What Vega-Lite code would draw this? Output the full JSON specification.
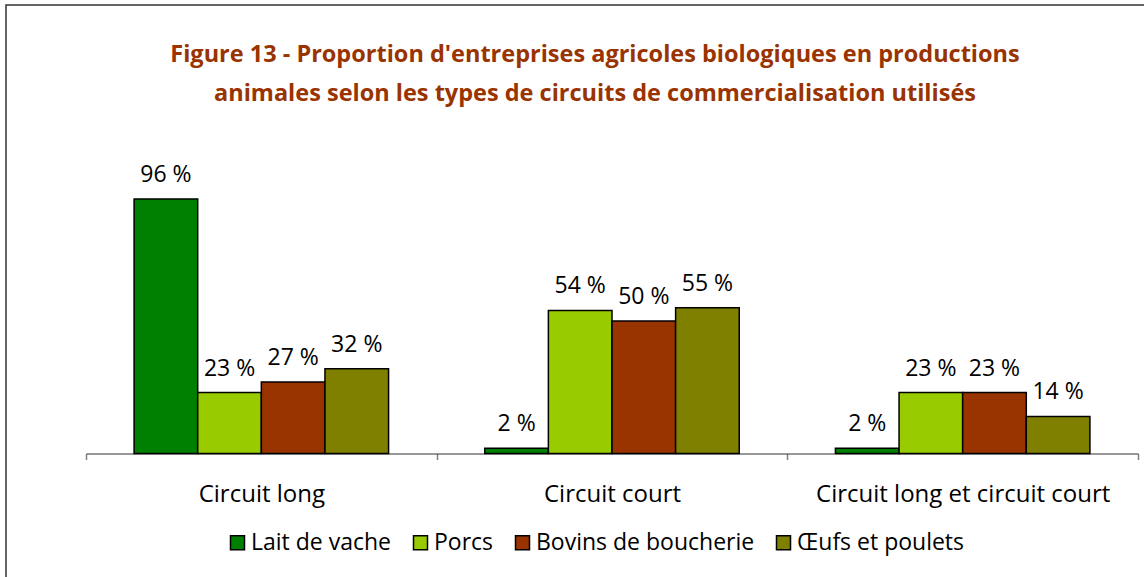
{
  "$schema": "https://vega.github.io/schema/vega-lite/v6.json",
  "autosize": {"type": "none"},
  "padding": {"left": 6, "top": 5, "right": 0, "bottom": 0},
  "width": 1150,
  "height": 590,
  "background": "white",
  "config": {"view": {"stroke": "#333333", "strokeWidth": 1.5}, "font": "Open Sans"},
  "title": {
    "text": ["Figure 13 - Proportion d'entreprises agricoles biologiques en productions", "animales selon les types de circuits de commercialisation utilisés"],
    "font": "Open Sans",
    "fontWeight": "bold",
    "fontSize": 23.5,
    "color": "#993300",
    "lineHeight": 39,
    "anchor": "middle",
    "frame": "group",
    "baseline": "top",
    "offset": -100,
    "dx": 14
  },
  "data": {
    "values": [
      {"circuit": "Circuit long", "serie": "Lait de vache", "value": 96, "label": "96 %"},
      {"circuit": "Circuit long", "serie": "Porcs", "value": 23, "label": "23 %"},
      {"circuit": "Circuit long", "serie": "Bovins de boucherie", "value": 27, "label": "27 %"},
      {"circuit": "Circuit long", "serie": "Œufs et poulets", "value": 32, "label": "32 %"},
      {"circuit": "Circuit court", "serie": "Lait de vache", "value": 2, "label": "2 %"},
      {"circuit": "Circuit court", "serie": "Porcs", "value": 54, "label": "54 %"},
      {"circuit": "Circuit court", "serie": "Bovins de boucherie", "value": 50, "label": "50 %"},
      {"circuit": "Circuit court", "serie": "Œufs et poulets", "value": 55, "label": "55 %"},
      {"circuit": "Circuit long et circuit court", "serie": "Lait de vache", "value": 2, "label": "2 %"},
      {"circuit": "Circuit long et circuit court", "serie": "Porcs", "value": 23, "label": "23 %"},
      {"circuit": "Circuit long et circuit court", "serie": "Bovins de boucherie", "value": 23, "label": "23 %"},
      {"circuit": "Circuit long et circuit court", "serie": "Œufs et poulets", "value": 14, "label": "14 %"}
    ]
  },
  "encoding": {
    "x": {
      "field": "circuit",
      "type": "nominal",
      "sort": ["Circuit long", "Circuit court", "Circuit long et circuit court"],
      "scale": {"domain": ["Circuit long", "Circuit court", "Circuit long et circuit court"], "range": [80, 1132], "paddingInner": 0, "paddingOuter": 0},
      "axis": {
        "title": null,
        "orient": "bottom",
        "offset": -141.5,
        "domainColor": "#333333",
        "domainWidth": 1,
        "tickColor": "#808080",
        "tickSize": 6,
        "tickWidth": 1.5,
        "tickBand": "extent",
        "labelFont": "Open Sans",
        "labelFontSize": 24,
        "labelColor": "black",
        "labelPadding": 23,
        "labelAngle": 0,
        "labelLimit": 0,
        "grid": false
      }
    },
    "xOffset": {
      "field": "serie",
      "type": "nominal",
      "sort": ["Lait de vache", "Porcs", "Bovins de boucherie", "Œufs et poulets"],
      "scale": {"domain": ["Lait de vache", "Porcs", "Bovins de boucherie", "Œufs et poulets"], "paddingInner": 0, "paddingOuter": 0.756}
    },
    "y": {
      "field": "value",
      "type": "quantitative",
      "scale": {"domain": [0, 100], "range": [448.5, 183.5]},
      "axis": null
    }
  },
  "layer": [
    {
      "mark": {"type": "bar", "stroke": "black", "strokeWidth": 1.5},
      "encoding": {
        "color": {
          "field": "serie",
          "type": "nominal",
          "sort": ["Lait de vache", "Porcs", "Bovins de boucherie", "Œufs et poulets"],
          "scale": {"domain": ["Lait de vache", "Porcs", "Bovins de boucherie", "Œufs et poulets"], "range": ["#008000", "#99cc00", "#993300", "#808000"]},
          "legend": {
            "orient": "none",
            "legendX": 220,
            "legendY": 526,
            "direction": "horizontal",
            "title": null,
            "padding": 0,
            "symbolType": "square",
            "symbolSize": 196,
            "symbolStrokeColor": "black",
            "symbolStrokeWidth": 1.5,
            "symbolOpacity": 1,
            "labelFont": "Open Sans",
            "labelFontSize": 23,
            "labelColor": "black",
            "labelOffset": 2,
            "labelLimit": 0,
            "columnPadding": 17
          }
        }
      }
    },
    {
      "mark": {"type": "text", "baseline": "alphabetic", "dy": -17, "fontSize": 23, "font": "Open Sans", "color": "black"},
      "encoding": {"text": {"field": "label"}}
    }
  ]
}
